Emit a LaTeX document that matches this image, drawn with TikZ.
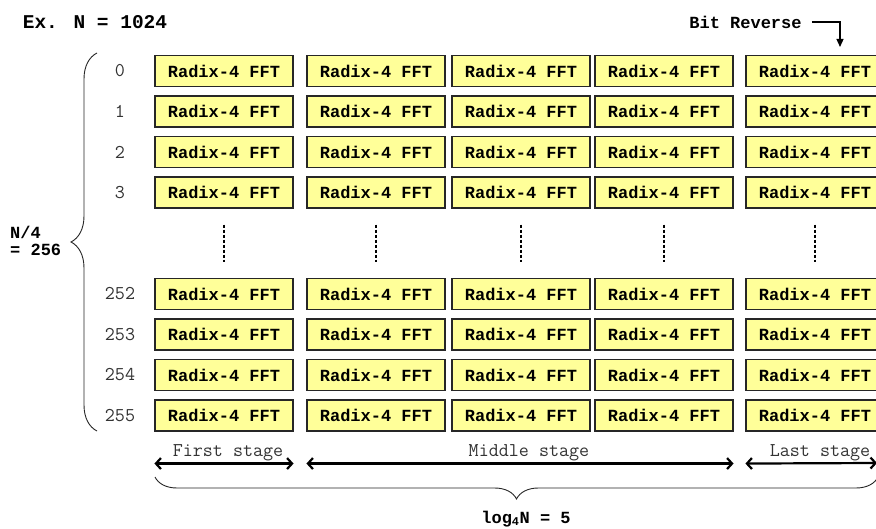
\documentclass[tikz,border=0pt]{standalone}
\usepackage{fontspec}
\newfontfamily\courbf{Liberation Mono}
\usetikzlibrary{arrows.meta,decorations.pathreplacing}
\definecolor{fftyellow}{RGB}{255,255,153}
\newcommand{\boldmono}{\courbf\bfseries\fontsize{17}{17}\selectfont}

\begin{document}
\begin{tikzpicture}[x=1pt,y=-1pt,font=\ttfamily\fontsize{19.5}{19}\selectfont]
	\tikzset{fft/.style = {draw=black!85,fill=fftyellow,line width=1.1pt,minimum width=138pt,minimum height=31pt,inner sep=0pt,font=\boldmono}}
	\tikzset{rownum/.style = {inner sep=0pt,text=black!80}}
	\tikzset{title/.style = {inner sep=0pt,font=\boldmono}}
	\tikzset{stage/.style = {inner sep=0pt,anchor=base,text=black!80}}
	\tikzset{span/.style = {{Straight Barb[length=5pt,width=11pt]}-{Straight Barb[length=5pt,width=11pt]},line width=2.2pt}}
	\tikzset{brace/.style = {decorate,decoration={brace,amplitude=#1},black!85,line width=0.9pt}}
	\useasboundingbox (0,0) rectangle (876,529);
	\clip (0,0) rectangle (876,529);
	% grid of radix-4 butterflies, rows 0..3 and 252..255
	\foreach \r/\y/\lbl in {1/71/0,2/111.5/1,3/152/2,4/192.5/3,5/294/252,6/334.5/253,7/375/254,8/415.5/255} {
		\node[rownum] (n-\r) at (120,\y) {\lbl};
		\foreach \c/\x in {1/224,2/376,3/521,4/664,5/815}
			\node[fft] (b-\c-\r) at (\x,\y) {Radix-4 FFT};
	}
	\foreach \c in {1,...,5}
		\draw[dash pattern=on 3pt off 2pt,line width=1.8pt] ([yshift=-16pt]b-\c-4.south) -- ([yshift=16pt]b-\c-5.north);
	% labels
	\node[title,font=\courbf\bfseries\fontsize{19.5}{20}\selectfont] (ex) at (95,22) {Ex. N = 1024};
	\node[title] (bitrev) at (745.5,22) {Bit Reverse};
	\node[title,anchor=west,align=left] (quarter) at (10,240.5) {N/4\\= 256};
	\node[title] (logn) at (526,519) {log\textsubscript{4}N = 5};
	\coordinate (brtip) at (840,47);
	\draw[-{Triangle[length=8pt,width=7pt]},line width=1.3pt] ([xshift=10pt]bitrev.east) -| (brtip);
	% braces
	\draw[brace=26pt] (97,431) -- (97,53);
	\draw[brace=22pt] (878,477) -- (155,477);
	% stages
	\coordinate (last) at (877,463);
	\draw[span] ([yshift=-32pt]b-1-8.south west) -- ([yshift=-32pt]b-1-8.south east);
	\draw[span] ([yshift=-32pt]b-2-8.south west) -- ([yshift=-32pt]b-4-8.south east);
	\draw[span] ([yshift=-32pt]b-5-8.south west) -- (last);
	\node[stage] (first) at (228,456) {First stage};
	\node[stage] (middle) at (529,456) {Middle stage};
	\node[stage] (laststage) at (820,456) {Last stage};
\end{tikzpicture}
\end{document}
